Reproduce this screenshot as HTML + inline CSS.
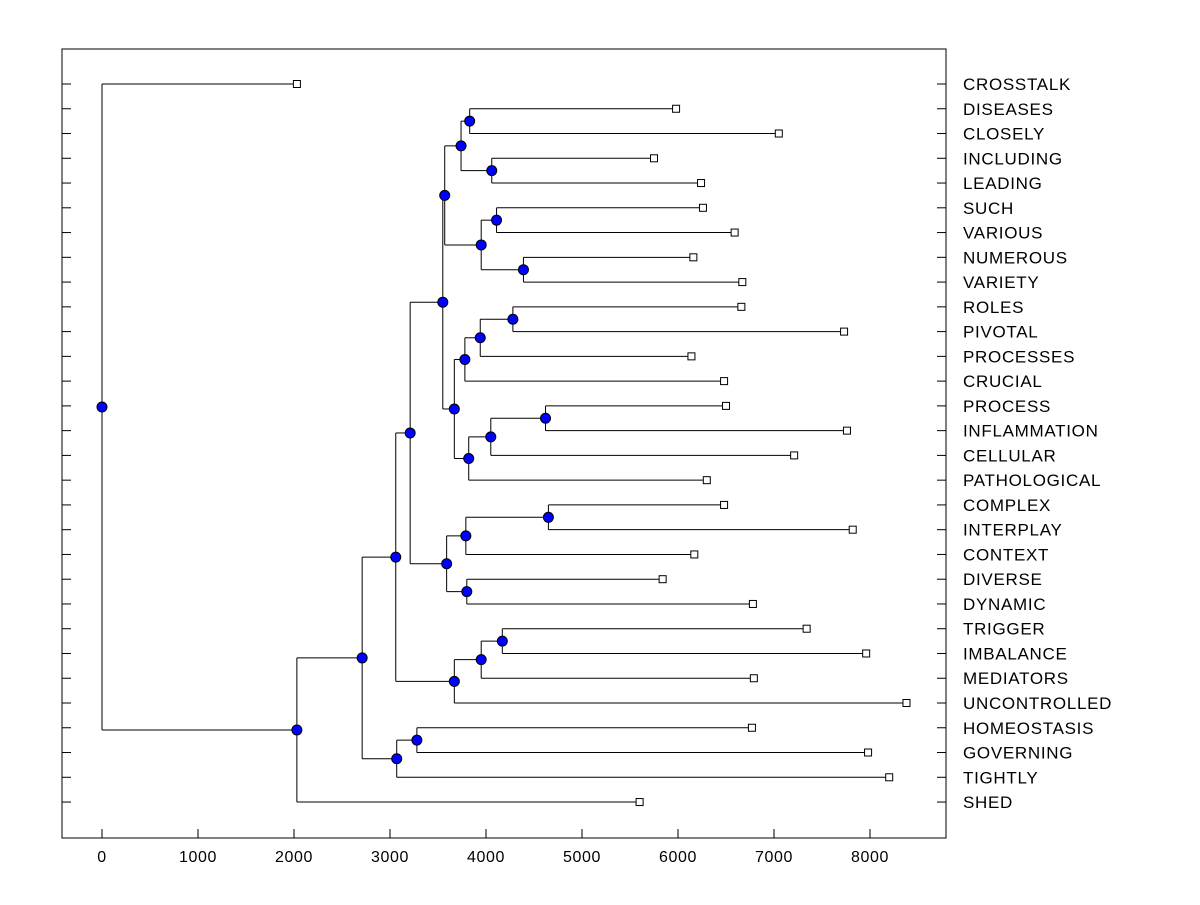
<!DOCTYPE html>
<html><head><meta charset="utf-8"><style>
body{margin:0;background:#fff;}
svg text{font-family:"Liberation Sans",Arial,sans-serif;}
</style></head><body>
<svg id="chart" width="1200" height="900" xmlns="http://www.w3.org/2000/svg">
<rect x="0" y="0" width="1200" height="900" fill="#fff"/>
<rect x="62" y="49" width="884" height="789" fill="none" stroke="#000" stroke-width="1"/>
<g id="g"></g>
</svg>
<script>
const leafNames=["CROSSTALK","DISEASES","CLOSELY","INCLUDING","LEADING","SUCH","VARIOUS","NUMEROUS","VARIETY","ROLES","PIVOTAL","PROCESSES","CRUCIAL","PROCESS","INFLAMMATION","CELLULAR","PATHOLOGICAL","COMPLEX","INTERPLAY","CONTEXT","DIVERSE","DYNAMIC","TRIGGER","IMBALANCE","MEDIATORS","UNCONTROLLED","HOMEOSTASIS","GOVERNING","TIGHTLY","SHED"];
const leafValues=[2030,5980,7050,5750,6240,6260,6590,6160,6670,6660,7730,6140,6480,6500,7760,7210,6300,6480,7820,6170,5840,6780,7340,7960,6790,8380,6770,7980,8200,5600];
// merges: internal node ids start at 30, in order
const mergeLeft  =[1,3,30,5,7,33,32,9,37,38,13,40,41,39,36,17,45,20,46,44,22,50,51,49,26,54,53,56,0];
const mergeRight =[2,4,31,6,8,34,35,10,11,12,14,15,16,42,43,18,19,21,47,48,23,24,25,52,27,28,55,29,57];
const mergeHeight=[3830,4060,3740,4110,4390,3950,3570,4280,3940,3780,4620,4050,3820,3670,3550,4650,3790,3800,3590,3210,4170,3950,3670,3060,3280,3070,2710,2030,0];
const xTicks=[0,1000,2000,3000,4000,5000,6000,7000,8000];
const X=v=>102+v*0.096;
const Y=i=>84+i*24.76;
const g=document.getElementById('g');
const NS="http://www.w3.org/2000/svg";
function mk(t,a){const e=document.createElementNS(NS,t);for(const k in a)e.setAttribute(k,a[k]);g.appendChild(e);return e;}
const nx=[],ny=[];
leafValues.forEach((v,i)=>{nx[i]=X(v);ny[i]=Y(i);});
const dots=[];
mergeHeight.forEach((h,k)=>{
 const id=30+k,a=mergeLeft[k],b=mergeRight[k],x=X(h);
 nx[id]=x;ny[id]=(ny[a]+ny[b])/2;
 for(const c of [a,b]){const l=mk('line',{x1:x,y1:ny[c],x2:nx[c],y2:ny[c],stroke:'#000','stroke-width':1});
 
 }
 const v=mk('line',{x1:x,y1:ny[a],x2:x,y2:ny[b],stroke:'#000','stroke-width':1});
 
 
 dots.push(id);
});
dots.forEach(id=>{const c=mk('circle',{cx:nx[id],cy:ny[id],r:5,fill:'#0000ff',stroke:'#000','stroke-width':1});
 
 });
leafNames.forEach((n,i)=>{
 const r=mk('rect',{x:nx[i]-3.5,y:ny[i]-3.5,width:7,height:7,fill:'#fff',stroke:'#000','stroke-width':1});
 
 
 const t1=mk('line',{x1:62,y1:ny[i],x2:71,y2:ny[i],stroke:'#000'});
 
 
 const t2=mk('line',{x1:937,y1:ny[i],x2:946,y2:ny[i],stroke:'#000'});
 
 
 const t=mk('text',{x:963,y:ny[i]+6,'font-size':17,'letter-spacing':0.7,fill:'#000'});
 t.textContent=n;
 
 
});
xTicks.forEach(v=>{
 const l=mk('line',{x1:X(v),y1:838,x2:X(v),y2:829,stroke:'#000'});
 
 
 const t=mk('text',{x:X(v),y:862,'font-size':16,'letter-spacing':0.6,'text-anchor':'middle',fill:'#000'});
 t.textContent=v;
 
 
});
</script>
</body></html>
